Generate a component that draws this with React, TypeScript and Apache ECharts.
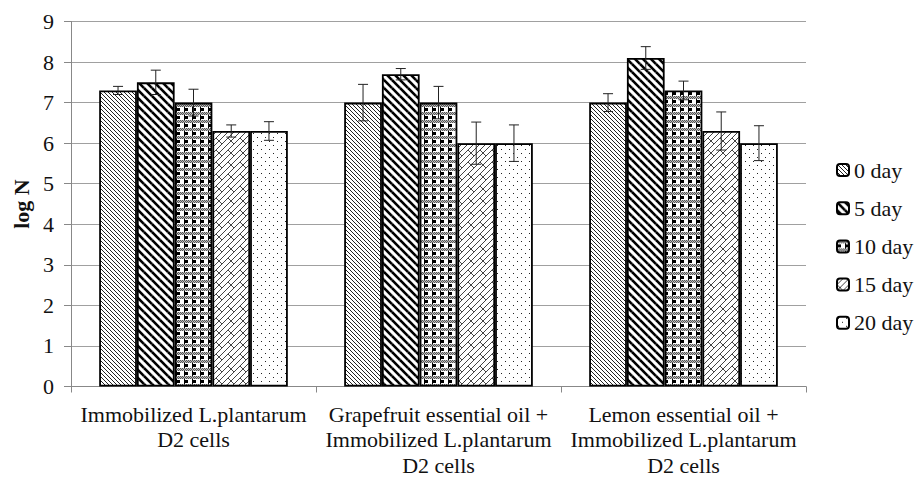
import React, { useEffect, useRef } from "react";
import * as echarts from "echarts";

const categories = [
  "Immobilized L.plantarum\nD2 cells",
  "Grapefruit essential oil +\nImmobilized L.plantarum\nD2 cells",
  "Lemon essential oil +\nImmobilized L.plantarum\nD2 cells",
];
const seriesNames = ["0 day", "5 day", "10 day", "15 day", "20 day"];
const day0 = [7.3, 7.0, 7.0];
const day5 = [7.5, 7.7, 8.1];
const day10 = [7.0, 7.0, 7.3];
const day15 = [6.3, 6.0, 6.3];
const day20 = [6.3, 6.0, 6.0];
const err0 = [0.1, 0.45, 0.22];
const err5 = [0.3, 0.14, 0.28];
const err10 = [0.33, 0.4, 0.23];
const err15 = [0.15, 0.52, 0.47];
const err20 = [0.23, 0.45, 0.43];
const yTicks = [0, 1, 2, 3, 4, 5, 6, 7, 8, 9];

const values = [day0, day5, day10, day15, day20];
const errors = [err0, err5, err10, err15, err20];

const GAP = 0.23;
const FONT = "'Liberation Serif', 'Times New Roman', serif";
const FS = 22;

function tile(size: number, draw: (ctx: CanvasRenderingContext2D, T: number) => void): string {
  const c = document.createElement("canvas");
  c.width = size;
  c.height = size;
  const ctx = c.getContext("2d") as CanvasRenderingContext2D;
  ctx.fillStyle = "#ffffff";
  ctx.fillRect(0, 0, size, size);
  draw(ctx, size);
  return c.toDataURL();
}

function seg(ctx: CanvasRenderingContext2D, T: number, x1: number, y1: number, x2: number, y2: number) {
  for (const dx of [-T, 0, T]) {
    for (const dy of [-T, 0, T]) {
      ctx.beginPath();
      ctx.moveTo(x1 + dx, y1 + dy);
      ctx.lineTo(x2 + dx, y2 + dy);
      ctx.stroke();
    }
  }
}

function makePatterns(): string[] {
  const p0 = tile(4, (ctx) => {
    ctx.fillStyle = "#222";
    for (let i = 0; i < 4; i++) ctx.fillRect(i, i, 1, 1);
  });
  const p5 = tile(8, (ctx, T) => {
    ctx.strokeStyle = "#000";
    ctx.lineWidth = 2.6;
    seg(ctx, T, 0, 0, T, T);
  });
  const p10 = tile(8, (ctx) => {
    for (let y = 0; y < 3; y++) {
      for (let x = 0; x < 8; x++) {
        ctx.fillStyle = (x + y) % 2 === 0 ? "#555" : "#bbb";
        ctx.fillRect(x, y, 1, 1);
      }
    }
    ctx.fillStyle = "#000";
    ctx.fillRect(0, 4, 4, 3);
    ctx.fillRect(0, 3, 1, 5);
  });
  const p15 = tile(12, (ctx, T) => {
    ctx.strokeStyle = "#444";
    ctx.lineWidth = 1;
    seg(ctx, T, 0, 12, 12, 0);
    seg(ctx, T, 6, 12, 18, 0);
    seg(ctx, T, 3, 9, 6, 12);
    seg(ctx, T, 12, 6, 15, 9);
  });
  const p20 = tile(8, (ctx) => {
    ctx.fillStyle = "#222";
    ctx.fillRect(1, 1, 1, 1);
    ctx.fillRect(5, 5, 1, 1);
  });
  return [p0, p5, p10, p15, p20];
}

export default function App() {
  const ref = useRef<HTMLDivElement>(null);
  useEffect(() => {
    if (!ref.current) return;
    const chart = echarts.init(ref.current, undefined, { renderer: "svg" });
    const patterns = makePatterns();

    const barSeries = seriesNames.map((name, i) => ({
      name,
      type: "bar",
      data: values[i],
      barGap: "0%",
      barCategoryGap: GAP * 100 + "%",
      itemStyle: {
        color: { image: patterns[i], repeat: "repeat" },
        borderColor: "#000",
        borderWidth: 1.8,
      },
    }));

    const errData: number[][] = [];
    seriesNames.forEach((_, s) => {
      categories.forEach((_, c) => {
        errData.push([c, s, values[s][c], errors[s][c]]);
      });
    });

    const errSeries = {
      type: "custom",
      name: "err",
      data: errData,
      encode: { x: 0, y: 2 },
      z: 10,
      silent: true,
      renderItem: (params: any, api: any) => {
        const c = api.value(0);
        const s = api.value(1);
        const v = api.value(2);
        const e = api.value(3);
        const band = api.size([1, 0])[0];
        const center = api.coord([c, v]);
        const groupW = band * (1 - GAP);
        const bw = groupW / 5;
        const x = center[0] - groupW / 2 + (s + 0.5) * bw;
        const top = api.coord([c, v + e])[1];
        const bot = api.coord([c, v - e])[1];
        const style = { stroke: "#222", lineWidth: 1 };
        return {
          type: "group",
          children: [
            { type: "line", shape: { x1: x, y1: top, x2: x, y2: bot }, style },
            { type: "line", shape: { x1: x - 5, y1: top, x2: x + 5, y2: top }, style },
            { type: "line", shape: { x1: x - 5, y1: bot, x2: x + 5, y2: bot }, style },
          ],
        };
      },
    };

    chart.setOption({
      animation: false,
      backgroundColor: "#ffffff",
      textStyle: { fontFamily: FONT },
      grid: { left: 71, right: 113, top: 21.5, bottom: 89, containLabel: false },
      legend: {
        data: seriesNames,
        orient: "vertical",
        left: 836,
        top: 159,
        padding: 0,
        itemWidth: 12,
        itemHeight: 12,
        itemGap: 16.2,
        textStyle: { fontFamily: FONT, fontSize: FS, color: "#111", lineHeight: 22 },
      },
      xAxis: {
        type: "category",
        data: categories,
        axisLine: { lineStyle: { color: "#888" } },
        axisTick: { show: true, length: 6, lineStyle: { color: "#888" } },
        axisLabel: {
          fontFamily: FONT,
          fontSize: FS,
          color: "#111",
          lineHeight: 25.5,
          margin: 15,
          interval: 0,
        },
      },
      yAxis: {
        type: "value",
        min: 0,
        max: 9,
        interval: 1,
        name: "log N",
        nameLocation: "middle",
        nameGap: 38,
        nameRotate: 90,
        nameTextStyle: { fontFamily: FONT, fontSize: FS, fontWeight: "bold", color: "#111" },
        axisLine: { show: true, lineStyle: { color: "#888" } },
        axisTick: { show: true, length: 7, lineStyle: { color: "#888" } },
        axisLabel: {
          fontFamily: FONT,
          fontSize: FS,
          color: "#111",
          margin: 17,
          formatter: (v: number) => (yTicks.includes(v) ? String(v) : ""),
        },
        splitLine: { lineStyle: { color: "#a0a0a0", width: 1 } },
      },
      series: [...barSeries, errSeries],
    });
    return () => chart.dispose();
  }, []);
  return (
    <div
      ref={ref}
      style={{ position: "fixed", left: 0, top: 0, width: 919, height: 478 }}
    />
  );
}
